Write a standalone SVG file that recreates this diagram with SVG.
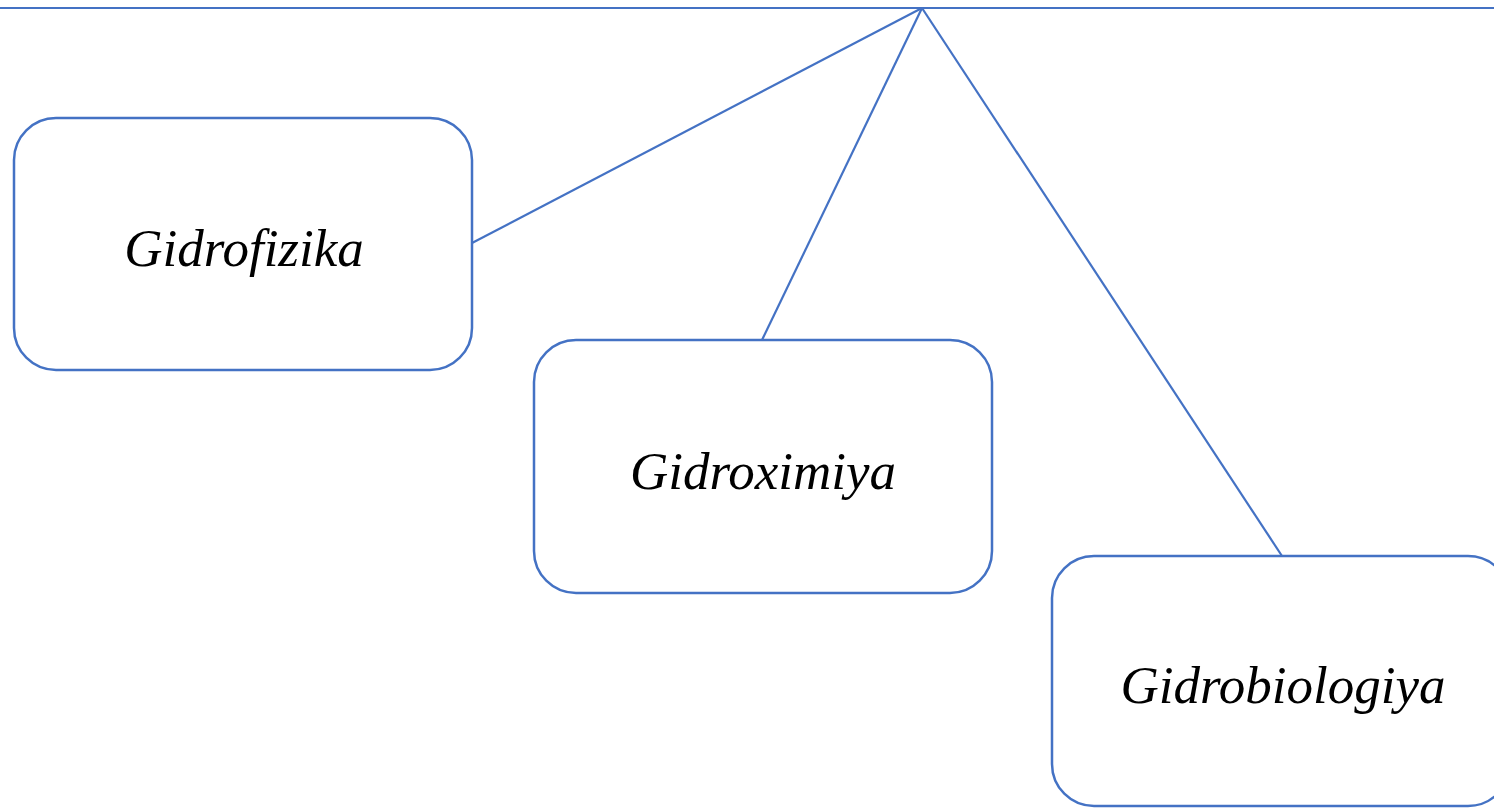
<svg xmlns="http://www.w3.org/2000/svg" width="1494" height="808" viewBox="0 0 1494 808">
<style>
.ln{stroke:#4472C4;stroke-width:2.2;fill:none}
.box{stroke:#4472C4;stroke-width:2.5;fill:#fff}
.lbl{font-family:"Liberation Serif","Times New Roman",serif;font-style:italic;font-size:53px;fill:#000;text-anchor:middle}
</style>
<rect width="1494" height="808" fill="#fff"/>
<g id="connectors">
<line class="ln" x1="0" y1="8" x2="1494" y2="8"/>
<line class="ln" x1="922" y1="8" x2="472" y2="243"/>
<line class="ln" x1="922" y1="8" x2="762" y2="340"/>
<line class="ln" x1="922" y1="8" x2="1282" y2="556"/>
</g>
<g id="gidrofizika">
<rect class="box" x="14" y="118" width="458" height="252" rx="42"/>
<text class="lbl" x="244" y="266">Gidrofizika</text>
</g>
<g id="gidroximiya">
<rect class="box" x="534" y="340" width="458" height="253" rx="42"/>
<text class="lbl" x="763" y="489">Gidroximiya</text>
</g>
<g id="gidrobiologiya">
<rect class="box" x="1052" y="556" width="458" height="250" rx="42"/>
<text class="lbl" x="1283" y="703">Gidrobiologiya</text>
</g>
</svg>
